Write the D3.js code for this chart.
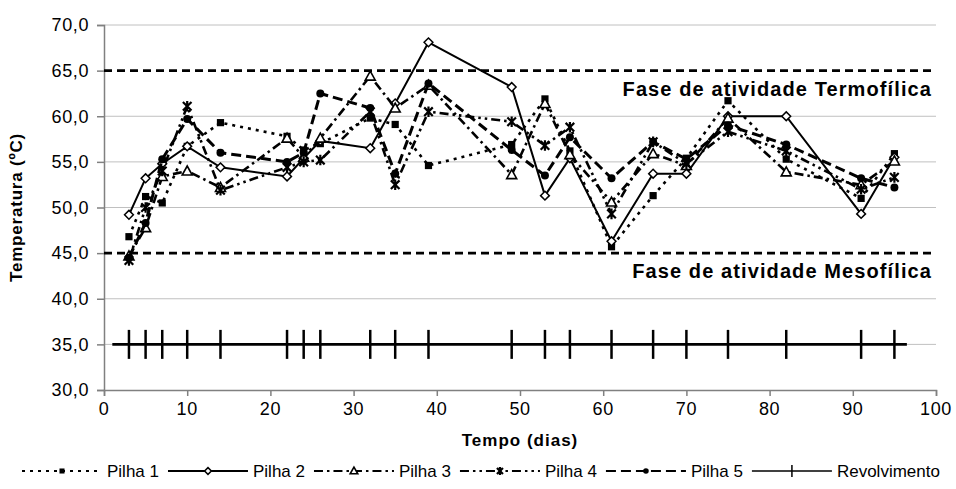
<!DOCTYPE html>
<html lang="pt">
<head>
<meta charset="utf-8">
<title>Temperatura das pilhas</title>
<script src="https://cdn.jsdelivr.net/npm/d3@7"></script>
<style>
  body { margin: 0; background: #fff; }
  svg text { font-family: "Liberation Sans", Arial, sans-serif; fill: #000; }
  .grid line { stroke: #c0c0c0; stroke-width: 1; }
  .axis path, .axis line { stroke: #808080; stroke-width: 1.5; }
  .tick-lbl { font-size: 18px; letter-spacing: 0.6px; }
</style>
</head>
<body>
<svg width="956" height="489"></svg>
<script>

  // dias de medição (= dias de revolvimento)
  var dias = [3, 5, 7, 10, 14, 22, 24, 26, 32, 35, 39, 49, 53, 56, 61, 66, 70, 75, 82, 91, 95];

  var pilha1 = [46.8, 51.2, 50.5, 56.7, 59.3, 57.8, 56.3, 57.0, 59.8, 59.1, 54.6, 56.9, 61.9, 56.2, 45.7, 51.3, 55.4, 61.7, 55.3, 51.0, 55.9];
  var pilha2 = [49.2, 53.2, 54.8, 56.7, 54.4, 53.4, 55.4, 57.3, 56.5, 61.4, 68.1, 63.2, 51.3, 55.4, 46.3, 53.7, 53.7, 60.0, 60.0, 49.3, 55.5];
  var pilha3 = [44.7, 47.8, 53.4, 54.0, 52.2, 57.6, 55.5, 57.6, 64.4, 60.9, 63.4, 53.6, 61.4, 55.8, 50.6, 55.9, 54.6, 59.8, 53.9, 52.5, 55.1];
  var pilha4 = [44.2, 50.0, 54.0, 61.1, 51.9, 54.4, 55.0, 55.2, 60.5, 52.5, 60.5, 59.4, 56.8, 58.8, 49.3, 57.2, 54.8, 58.3, 56.2, 52.0, 53.3];
  var pilha5 = [44.5, 48.3, 55.3, 59.7, 56.0, 55.0, 56.0, 62.5, 60.9, 53.7, 63.6, 56.3, 53.5, 57.7, 53.2, 57.2, 55.3, 59.0, 56.9, 53.2, 52.2];

  var nomes = ["Pilha 1", "Pilha 2", "Pilha 3", "Pilha 4", "Pilha 5", "Revolvimento"];

  // revolvimento: linha em 35 °C com marcas nos dias de revolvimento
  var revNivel = [35];
  var revInicioFim = [1, 96.5];

  var fasesNivel = [65, 45];
  var fasesTexto = ["Fase de atividade Termofílica", "Fase de atividade Mesofílica"];

  var yTicks = [30, 35, 40, 45, 50, 55, 60, 65, 70];
  var xTicks = [0, 10, 20, 30, 40, 50, 60, 70, 80, 90, 100];

  var svg = d3.select("svg");

  var x = d3.scaleLinear().domain([0, 100]).range([104, 936]);
  var y = d3.scaleLinear().domain([30, 70]).range([390, 25]);

  // grid (45 and 65 are the dashed phase lines)
  svg.append("g").attr("class", "grid")
    .selectAll("line")
    .data(yTicks.filter(function(t){ return t != 30 && fasesNivel.indexOf(t) == -1; }))
    .enter().append("line")
    .attr("x1", x(0)).attr("x2", x(100))
    .attr("y1", function(d){ return y(d); })
    .attr("y2", function(d){ return y(d); });

  // axes
  var yAxis = d3.axisLeft(y).tickValues(yTicks).tickSize(7).tickFormat("");
  var xAxis = d3.axisBottom(x).tickValues(xTicks).tickSize(6).tickFormat("");
  svg.append("g").attr("class", "axis").attr("transform", "translate(" + x(0) + ",0)").call(yAxis);
  svg.append("g").attr("class", "axis").attr("transform", "translate(0," + y(30) + ")").call(xAxis);

  var fmt = function(v){ return d3.format(".1f")(v).replace(".", ","); };
  svg.append("g").selectAll("text").data(yTicks).enter().append("text")
    .attr("class", "tick-lbl")
    .attr("x", x(0) - 15)
    .attr("y", function(d){ return y(d); })
    .attr("dy", "0.35em")
    .attr("text-anchor", "end")
    .text(fmt);
  svg.append("g").selectAll("text").data(xTicks).enter().append("text")
    .attr("class", "tick-lbl")
    .attr("x", function(d){ return x(d); })
    .attr("y", y(30) + 25)
    .attr("text-anchor", "middle")
    .text(function(d){ return d; });

  // titles
  svg.append("text")
    .attr("x", (x(0) + x(100)) / 2)
    .attr("y", 446)
    .attr("text-anchor", "middle")
    .style("font-size", "17px").style("font-weight", "bold").style("letter-spacing", "1px")
    .text("Tempo (dias)");
  svg.append("text")
    .attr("transform", "translate(22," + (y(30) + y(70)) / 2 + ") rotate(-90)")
    .attr("text-anchor", "middle")
    .style("font-size", "17px").style("font-weight", "bold").style("letter-spacing", "0.8px")
    .text("Temperatura (ºC)");

  // phase lines
  svg.append("g").selectAll("line").data(fasesNivel).enter().append("line")
    .attr("x1", x(0)).attr("x2", x(100))
    .attr("y1", function(d){ return y(d); })
    .attr("y2", function(d){ return y(d); })
    .attr("stroke", "#000").attr("stroke-width", 2.6)
    .attr("stroke-dasharray", "8,5");
  svg.append("g").selectAll("text").data(fasesNivel).enter().append("text")
    .attr("x", 932)
    .attr("y", function(d){ return y(d) + 25; })
    .attr("text-anchor", "end")
    .style("font-size", "20px").style("font-weight", "bold").style("letter-spacing", "1.1px")
    .text(function(d, i){ return fasesTexto[i]; });

  // markers
  function marker(g, tipo, s) {
    if (tipo == "square") {
      g.append("rect").attr("x", -s).attr("y", -s).attr("width", 2*s).attr("height", 2*s).attr("fill", "#000");
    } else if (tipo == "diamond") {
      g.append("path").attr("d", "M0," + (-s-1) + "L" + (s+1) + ",0L0," + (s+1) + "L" + (-s-1) + ",0Z")
        .attr("fill", "#fff").attr("stroke", "#000").attr("stroke-width", 1.5);
    } else if (tipo == "triangle") {
      g.append("path").attr("d", "M0," + (-s-1) + "L" + (s+1) + "," + (s) + "L" + (-s-1) + "," + (s) + "Z")
        .attr("fill", "#fff").attr("stroke", "#000").attr("stroke-width", 1.6);
    } else if (tipo == "star") {
      g.append("path").attr("d", "M" + (-s) + "," + (-s) + "L" + s + "," + s + "M" + (-s) + "," + s + "L" + s + "," + (-s) + "M0," + (-s-1) + "L0," + (s+1))
        .attr("stroke", "#000").attr("stroke-width", 2.2).attr("fill", "none");
    } else if (tipo == "circle") {
      g.append("circle").attr("r", s).attr("fill", "#000");
    } else if (tipo == "plus") {
      g.append("path").attr("d", "M0," + (-s) + "L0," + s).attr("stroke", "#000").attr("stroke-width", 2.5);
    }
  }

  var estilos = [
    { dados: pilha1, dash: "3,5", w: 2.6, m: "square", s: 3.6 },
    { dados: pilha2, dash: null, w: 2, m: "diamond", s: 3.4 },
    { dados: pilha3, dash: "9,4,2.5,4", w: 2.6, m: "triangle", s: 4 },
    { dados: pilha4, dash: "9,4,2.5,4,2.5,4", w: 2.6, m: "star", s: 4.3 },
    { dados: pilha5, dash: "10,5", w: 3, m: "circle", s: 4 }
  ];

  var line = d3.line()
    .x(function(d){ return x(d[0]); })
    .y(function(d){ return y(d[1]); });

  estilos.forEach(function(e) {
    var pts = dias.map(function(d, i){ return [d, e.dados[i]]; });
    svg.append("path")
      .attr("d", line(pts))
      .attr("fill", "none").attr("stroke", "#000")
      .attr("stroke-width", e.w)
      .attr("stroke-dasharray", e.dash);
    svg.append("g").selectAll("g").data(pts).enter().append("g")
      .attr("transform", function(d){ return "translate(" + x(d[0]) + "," + y(d[1]) + ")"; })
      .each(function(){ marker(d3.select(this), e.m, e.s); });
  });

  // revolvimento
  svg.append("line")
    .attr("x1", x(revInicioFim[0])).attr("x2", x(revInicioFim[1]))
    .attr("y1", y(revNivel[0])).attr("y2", y(revNivel[0]))
    .attr("stroke", "#000").attr("stroke-width", 2.6);
  svg.append("g").selectAll("g").data(dias).enter().append("g")
    .attr("transform", function(d){ return "translate(" + x(d) + "," + y(revNivel[0]) + ")"; })
    .each(function(){ marker(d3.select(this), "plus", 14.5); });

  // legend
  var leg = svg.append("g");
  var lx = 22, ly = 471;
  var legEstilos = estilos.concat([{ dash: null, w: 1.5, m: "plus", s: 6 }]);
  legEstilos.forEach(function(e, i) {
    var s = e.m == "plus" ? 6 : e.s * 0.7;
    leg.append("line")
      .attr("x1", lx).attr("x2", lx + 80)
      .attr("y1", ly).attr("y2", ly)
      .attr("stroke", "#000")
      .attr("stroke-width", e.m == "plus" ? 1.5 : Math.min(e.w, 2.2))
      .attr("stroke-dasharray", e.dash);
    var mg = leg.append("g").attr("transform", "translate(" + (lx + 40) + "," + ly + ")");
    marker(mg, e.m, s);
    if (e.m == "plus") mg.select("path").attr("stroke-width", 1.5);
    var t = leg.append("text")
      .attr("x", lx + 85).attr("y", ly).attr("dy", "0.35em")
      .style("font-size", "17px")
      .text(nomes[i]);
    lx = lx + 85 + t.node().getComputedTextLength() + 9;
  });

</script>
</body>
</html>
